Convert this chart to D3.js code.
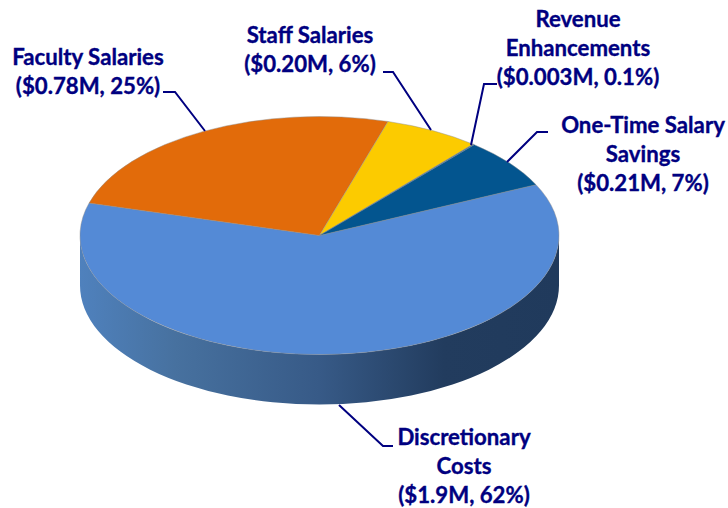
<!DOCTYPE html>
<html><head><meta charset="utf-8">
<script src="https://cdn.jsdelivr.net/npm/d3@7"></script>
<style>html,body{margin:0;padding:0;background:#fff}svg{display:block}</style></head>
<body><svg id="c" width="728" height="508"></svg>
<script>
const categories=["Discretionary Costs","Faculty Salaries","Staff Salaries","Revenue Enhancements","One-Time Salary Savings"];
const values=[1.9,0.78,0.20,0.003,0.21];
const colors=["#548ad6","#e26b0a","#fccb00","#1f5f9e","#03558f"];
const labelLines=[["Discretionary","Costs","($1.9M, 62%)"],["Faculty Salaries","($0.78M, 25%)"],["Staff Salaries","($0.20M, 6%)"],["Revenue","Enhancements","($0.003M, 0.1%)"],["One-Time Salary","Savings","($0.21M, 7%)"]];
const labelCentres=[[464,466.5],[88,72],[310,50],[578,49],[643,155]];
const leaders=[[[339,405],[383,446],[393,446]],[[205,131],[175,92],[163,92]],[[431,130],[393,72],[383,72]],[[471,145],[484,84],[497,84]],[[507,162],[537,132],[548,132]]];
const cx=319.5,cy=235.5,rx=239.5,ry=119,depth=50,lh=29;
const svg=d3.select("#c");
const grad=svg.append("defs").append("linearGradient").attr("id","side");
[[0,"#4f81bd"],[0.2,"#47719f"],[0.5,"#375a87"],[0.76,"#223c5e"],[1,"#203a5c"]].forEach(s=>grad.append("stop").attr("offset",s[0]).attr("stop-color",s[1]));
svg.append("path").attr("fill","url(#side)")
 .attr("d",`M${cx-rx},${cy}A${rx},${ry} 0 0 0 ${cx+rx},${cy}L${cx+rx},${cy+depth}A${rx},${ry} 0 0 1 ${cx-rx},${cy+depth}Z`);
const start=64.7*Math.PI/180;
const pie=d3.pie().sort(null).startAngle(start).endAngle(start+2*Math.PI);
const arc=d3.arc().innerRadius(0).outerRadius(rx);
const face=svg.append("g").attr("transform",`translate(${cx},${cy}) scale(1,${ry/rx})`);
face.selectAll("path").data(pie(values)).join("path")
 .attr("d",arc).attr("fill",(d,i)=>colors[i])
 .attr("stroke","#8f8f8f").attr("stroke-opacity",.45).attr("stroke-width",1).attr("vector-effect","non-scaling-stroke");
const line=d3.line();
svg.selectAll("path.l").data(leaders).join("path").attr("class","l").attr("d",line)
 .attr("fill","none").attr("stroke","#000080").attr("stroke-width",2);
labelLines.forEach((ls,i)=>{
 const t=svg.append("text").attr("text-anchor","middle").attr("font-family","Lato, Carlito, sans-serif")
  .attr("font-weight",700).attr("font-size",22.2).attr("fill","#000080")
  .attr("stroke","#000080").attr("stroke-width",0.35);
 ls.forEach((s,j)=>t.append("tspan").attr("x",labelCentres[i][0]).attr("y",labelCentres[i][1]+(j-(ls.length-1)/2)*lh+7).text(s));
});
</script></body></html>
